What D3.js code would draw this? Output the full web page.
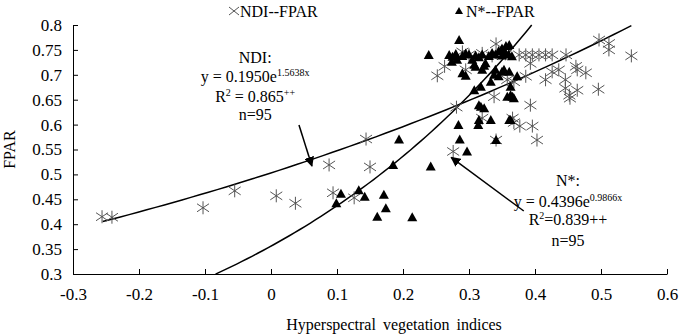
<!DOCTYPE html>
<html>
<head>
<meta charset="utf-8">
<script src="https://cdn.jsdelivr.net/npm/d3@7"></script>
<style>
  body { margin: 0; background: #fff; }
  svg text { font-family: "Liberation Serif", "Times New Roman", serif; fill: #000; }
</style>
</head>
<body>
<svg id="chart"></svg>
<script>
// NDI--FPAR points [x, y]
const ndiPoints = [
  [-0.256, 0.415], [-0.241, 0.414], [-0.103, 0.433], [-0.055, 0.467], [0.008, 0.457],
  [0.037, 0.442], [0.088, 0.519], [0.094, 0.463], [0.126, 0.453], [0.144, 0.571],
  [0.150, 0.515], [0.252, 0.698], [0.263, 0.717], [0.276, 0.546], [0.281, 0.635],
  [0.290, 0.746], [0.295, 0.710], [0.341, 0.762], [0.320, 0.613], [0.338, 0.656],
  [0.341, 0.569], [0.358, 0.690], [0.366, 0.613], [0.368, 0.686], [0.300, 0.740],
  [0.320, 0.743], [0.335, 0.738], [0.355, 0.742], [0.376, 0.740], [0.386, 0.740],
  [0.396, 0.740], [0.406, 0.740], [0.416, 0.740], [0.426, 0.740], [0.447, 0.740],
  [0.386, 0.697], [0.393, 0.723], [0.393, 0.639], [0.368, 0.604], [0.377, 0.597],
  [0.396, 0.597], [0.403, 0.569], [0.416, 0.690], [0.426, 0.706], [0.436, 0.710],
  [0.446, 0.690], [0.462, 0.717], [0.464, 0.710], [0.477, 0.704], [0.446, 0.673],
  [0.464, 0.669], [0.452, 0.659], [0.453, 0.653], [0.496, 0.671], [0.497, 0.770],
  [0.512, 0.763], [0.512, 0.750], [0.546, 0.738]
];

// N*--FPAR points [x, y]
const nstarPoints = [
  [0.099, 0.442], [0.106, 0.461], [0.133, 0.468], [0.142, 0.455], [0.161, 0.415],
  [0.171, 0.459], [0.174, 0.432], [0.185, 0.519], [0.194, 0.570], [0.214, 0.414],
  [0.242, 0.516], [0.239, 0.740], [0.285, 0.770], [0.284, 0.599], [0.286, 0.570],
  [0.297, 0.546], [0.315, 0.609], [0.314, 0.599], [0.318, 0.636], [0.323, 0.633],
  [0.333, 0.609], [0.341, 0.569], [0.361, 0.609], [0.363, 0.609], [0.308, 0.669],
  [0.318, 0.676], [0.315, 0.639], [0.290, 0.703], [0.295, 0.698], [0.310, 0.716],
  [0.320, 0.710], [0.323, 0.718], [0.333, 0.686], [0.338, 0.700], [0.345, 0.697],
  [0.340, 0.710], [0.350, 0.706], [0.353, 0.710], [0.361, 0.706], [0.373, 0.697],
  [0.358, 0.656], [0.363, 0.659], [0.366, 0.656], [0.368, 0.653], [0.363, 0.676],
  [0.274, 0.726], [0.282, 0.730], [0.305, 0.730], [0.308, 0.720], [0.325, 0.723],
  [0.270, 0.740], [0.280, 0.742], [0.290, 0.738], [0.300, 0.741], [0.310, 0.739],
  [0.320, 0.741], [0.330, 0.738], [0.340, 0.741], [0.350, 0.739], [0.360, 0.741],
  [0.365, 0.737], [0.275, 0.736], [0.295, 0.743], [0.315, 0.735], [0.335, 0.744],
  [0.350, 0.753], [0.356, 0.758], [0.361, 0.760], [0.345, 0.748], [0.355, 0.745]
];

// fitted curves as drawn: y = a * exp(b * x), from x0 to x1
const ndiFit = { a: 0.503, b: 0.847, x0: -0.255, x1: 0.546 };
const nstarFit = { a: 0.356, b: 2.05, x0: -0.084, x1: 0.395 };

const xTicks = [-0.3, -0.2, -0.1, 0, 0.1, 0.2, 0.3, 0.4, 0.5, 0.6];
const yTicks = [0.3, 0.35, 0.4, 0.45, 0.5, 0.55, 0.6, 0.65, 0.7, 0.75, 0.8];

const width = 680, height = 336;
const margin = { top: 25, right: 13, bottom: 62, left: 73 };
const innerW = width - margin.left - margin.right;
const innerH = height - margin.top - margin.bottom;

const svg = d3.select('#chart')
  .attr('width', width)
  .attr('height', height);

const g = svg.append('g')
  .attr('transform', `translate(${margin.left},${margin.top})`);

const x = d3.scaleLinear().domain([-0.3, 0.6]).range([0, innerW]);
const y = d3.scaleLinear().domain([0.3, 0.8]).range([innerH, 0]);

// axes
const xAxis = d3.axisBottom(x).tickValues(xTicks).tickSizeInner(-5).tickSizeOuter(0)
  .tickPadding(14).tickFormat(d => String(+d.toFixed(1)));
const yAxis = d3.axisLeft(y).tickValues(yTicks).tickSizeInner(-5).tickSizeOuter(0)
  .tickPadding(11).tickFormat(d => String(+d.toFixed(2)));

const xAxisG = g.append('g').attr('transform', `translate(0,${innerH})`).call(xAxis);
const yAxisG = g.append('g').call(yAxis);

[xAxisG, yAxisG].forEach(a => {
  a.selectAll('path, line').attr('stroke', '#000').attr('stroke-width', 1);
  a.selectAll('text')
    .style('font-family', '"Liberation Serif", serif')
    .style('font-size', '17px')
    .attr('fill', '#000');
});

// curves
function fitPoints(f) {
  const n = 60;
  return d3.range(n + 1).map(i => {
    const xv = f.x0 + (f.x1 - f.x0) * i / n;
    return [xv, f.a * Math.exp(f.b * xv)];
  });
}
const line = d3.line().x(d => x(d[0])).y(d => y(d[1]));

g.append('path').datum(fitPoints(ndiFit))
  .attr('d', line).attr('fill', 'none').attr('stroke', '#000').attr('stroke-width', 1.5);
g.append('path').datum(fitPoints(nstarFit))
  .attr('d', line).attr('fill', 'none').attr('stroke', '#000').attr('stroke-width', 1.5);

// markers
const starPath = 'M0,-6.5L0,6.5M-6,-4L6,4M-6,4L6,-4';
const triPath = 'M0,-5L5,4L-5,4Z';

g.append('g').selectAll('path')
  .data(ndiPoints)
  .join('path')
  .attr('transform', d => `translate(${x(d[0])},${y(d[1])})`)
  .attr('d', starPath)
  .attr('fill', 'none')
  .attr('stroke', '#555')
  .attr('stroke-width', 1);

g.append('g').selectAll('path')
  .data(nstarPoints)
  .join('path')
  .attr('transform', d => `translate(${x(d[0])},${y(d[1])})`)
  .attr('d', triPath)
  .attr('fill', '#000');

// arrows
svg.append('defs').append('marker')
  .attr('id', 'arrow')
  .attr('viewBox', '0 0 10 10')
  .attr('refX', 9).attr('refY', 5)
  .attr('markerWidth', 10).attr('markerHeight', 10)
  .attr('markerUnits', 'userSpaceOnUse')
  .attr('orient', 'auto')
  .append('path').attr('d', 'M0,0L10,5L0,10Z').attr('fill', '#000');

const arrows = [
  { from: [0.0424, 0.599], to: [0.062, 0.517] },
  { from: [0.383, 0.4265], to: [0.273, 0.534] }
];
g.append('g').selectAll('line')
  .data(arrows)
  .join('line')
  .attr('x1', d => x(d.from[0])).attr('y1', d => y(d.from[1]))
  .attr('x2', d => x(d.to[0])).attr('y2', d => y(d.to[1]))
  .attr('stroke', '#000').attr('stroke-width', 1.5)
  .attr('marker-end', 'url(#arrow)');

// annotations
function annot(cx, lines) {
  const t = g.append('text').attr('text-anchor', 'middle').style('font-size', '16px');
  lines.forEach(l => {
    const ts = t.append('tspan').attr('x', x(cx)).attr('y', y(l.y));
    l.parts.forEach(p => {
      const s = ts.append('tspan').text(p.t);
      if (p.sup) s.style('font-size', '10px').attr('dy', -6);
      if (p.down) s.attr('dy', 6);
    });
  });
}
annot(-0.024, [
  { y: 0.724, parts: [{ t: 'NDI:' }] },
  { y: 0.686, parts: [{ t: 'y = 0.1950e' }, { t: '1.5638x', sup: true }] },
  { y: 0.646, parts: [{ t: 'R', }, { t: '2', sup: true }, { t: ' = 0.865', down: true }, { t: '++', sup: true }] },
  { y: 0.609, parts: [{ t: 'n=95' }] }
]);
annot(0.45, [
  { y: 0.477, parts: [{ t: 'N*:' }] },
  { y: 0.435, parts: [{ t: 'y = 0.4396e' }, { t: '0.9866x', sup: true }] },
  { y: 0.398, parts: [{ t: 'R' }, { t: '2', sup: true }, { t: '=0.839++', down: true }] },
  { y: 0.356, parts: [{ t: 'n=95' }] }
]);

// legend
const legend = svg.append('g');
legend.append('path')
  .attr('transform', 'translate(234,11)')
  .attr('d', 'M-5,-4L5,4M-5,4L5,-4')
  .attr('stroke', '#555').attr('fill', 'none');
legend.append('text').attr('x', 240).attr('y', 17).style('font-size', '16px').text('NDI--FPAR');
legend.append('path')
  .attr('transform', 'translate(459,11)')
  .attr('d', 'M0,-4L4,3L-4,3Z').attr('fill', '#000');
legend.append('text').attr('x', 466).attr('y', 17).style('font-size', '16px').text('N*--FPAR');

// axis titles
svg.append('text')
  .attr('transform', `translate(15,${margin.top + innerH / 2}) rotate(-90)`)
  .attr('text-anchor', 'middle')
  .style('font-size', '16px')
  .text('FPAR');
svg.append('text')
  .attr('x', 394).attr('y', 330)
  .attr('text-anchor', 'middle')
  .style('font-size', '16px')
  .style('word-spacing', '3px')
  .text('Hyperspectral vegetation indices');
</script>
</body>
</html>
